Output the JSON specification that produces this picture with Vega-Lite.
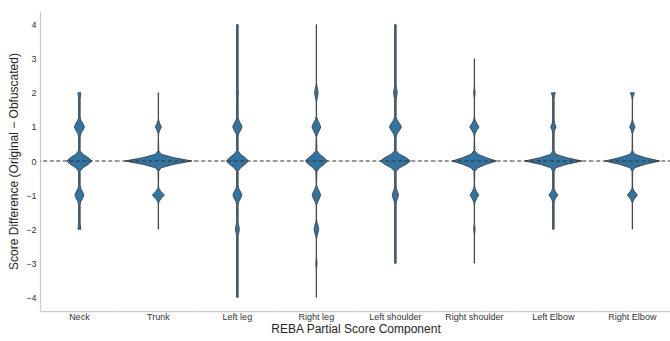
{
  "$schema": "https://vega.github.io/schema/vega-lite/v6.json",
  "padding": {"left": 7, "top": 11, "right": 0, "bottom": 0},
  "background": "white",
  "bounds": "flush",
  "config": {
    "font": "Liberation Sans",
    "view": {"stroke": null},
    "facet": {"spacing": 0}
  },
  "data": {
    "values": [
      {"c": "Neck", "y": -2, "d": 3}, {"c": "Neck", "y": -1.9, "d": 2.1}, {"c": "Neck", "y": -1.8, "d": 1.5}, {"c": "Neck", "y": -1.3, "d": 1.5}, {"c": "Neck", "y": -1.2, "d": 2.5}, {"c": "Neck", "y": -1.1, "d": 6.3}, {"c": "Neck", "y": -1, "d": 9}, {"c": "Neck", "y": -0.9, "d": 6.3}, {"c": "Neck", "y": -0.8, "d": 2.5}, {"c": "Neck", "y": -0.7, "d": 1.5}, {"c": "Neck", "y": -0.3, "d": 1.5}, {"c": "Neck", "y": -0.2, "d": 7}, {"c": "Neck", "y": -0.1, "d": 17.5}, {"c": "Neck", "y": 0, "d": 25}, {"c": "Neck", "y": 0.1, "d": 17.5}, {"c": "Neck", "y": 0.2, "d": 7}, {"c": "Neck", "y": 0.3, "d": 1.5}, {"c": "Neck", "y": 0.7, "d": 1.5}, {"c": "Neck", "y": 0.8, "d": 2.8}, {"c": "Neck", "y": 0.9, "d": 7}, {"c": "Neck", "y": 1, "d": 10}, {"c": "Neck", "y": 1.1, "d": 7}, {"c": "Neck", "y": 1.2, "d": 2.8}, {"c": "Neck", "y": 1.3, "d": 1.5}, {"c": "Neck", "y": 1.8, "d": 1.5}, {"c": "Neck", "y": 1.9, "d": 2.1}, {"c": "Neck", "y": 2, "d": 3},

      {"c": "Trunk", "y": -2, "d": 0.5}, {"c": "Trunk", "y": -1.8, "d": 0.3}, {"c": "Trunk", "y": -1.3, "d": 0.3}, {"c": "Trunk", "y": -1.2, "d": 1}, {"c": "Trunk", "y": -1.1, "d": 5.4}, {"c": "Trunk", "y": -1, "d": 12}, {"c": "Trunk", "y": -0.9, "d": 5.4}, {"c": "Trunk", "y": -0.8, "d": 1}, {"c": "Trunk", "y": -0.7, "d": 0.3}, {"c": "Trunk", "y": -0.3, "d": 0.7}, {"c": "Trunk", "y": -0.2, "d": 5.4}, {"c": "Trunk", "y": -0.1, "d": 30}, {"c": "Trunk", "y": 0, "d": 67}, {"c": "Trunk", "y": 0.1, "d": 30}, {"c": "Trunk", "y": 0.2, "d": 5.4}, {"c": "Trunk", "y": 0.3, "d": 0.7}, {"c": "Trunk", "y": 0.7, "d": 0.3}, {"c": "Trunk", "y": 0.8, "d": 0.5}, {"c": "Trunk", "y": 0.9, "d": 2.7}, {"c": "Trunk", "y": 1, "d": 6}, {"c": "Trunk", "y": 1.1, "d": 2.7}, {"c": "Trunk", "y": 1.2, "d": 0.5}, {"c": "Trunk", "y": 1.3, "d": 0.3}, {"c": "Trunk", "y": 1.8, "d": 0.3}, {"c": "Trunk", "y": 2, "d": 0.5},

      {"c": "Left leg", "y": -4, "d": 1.5}, {"c": "Left leg", "y": -2.2, "d": 1.5}, {"c": "Left leg", "y": -2.1, "d": 2.8}, {"c": "Left leg", "y": -2, "d": 4}, {"c": "Left leg", "y": -1.9, "d": 2.8}, {"c": "Left leg", "y": -1.8, "d": 1.5}, {"c": "Left leg", "y": -1.3, "d": 1.5}, {"c": "Left leg", "y": -1.2, "d": 2.5}, {"c": "Left leg", "y": -1.1, "d": 6.3}, {"c": "Left leg", "y": -1, "d": 9}, {"c": "Left leg", "y": -0.9, "d": 6.3}, {"c": "Left leg", "y": -0.8, "d": 2.5}, {"c": "Left leg", "y": -0.7, "d": 1.5}, {"c": "Left leg", "y": -0.3, "d": 1.5}, {"c": "Left leg", "y": -0.2, "d": 6.2}, {"c": "Left leg", "y": -0.1, "d": 15.4}, {"c": "Left leg", "y": 0, "d": 22}, {"c": "Left leg", "y": 0.1, "d": 15.4}, {"c": "Left leg", "y": 0.2, "d": 6.2}, {"c": "Left leg", "y": 0.3, "d": 1.5}, {"c": "Left leg", "y": 0.7, "d": 1.5}, {"c": "Left leg", "y": 0.8, "d": 2.6}, {"c": "Left leg", "y": 0.9, "d": 6.5}, {"c": "Left leg", "y": 1, "d": 9.3}, {"c": "Left leg", "y": 1.1, "d": 6.5}, {"c": "Left leg", "y": 1.2, "d": 2.6}, {"c": "Left leg", "y": 1.3, "d": 1.5}, {"c": "Left leg", "y": 1.9, "d": 1.5}, {"c": "Left leg", "y": 2, "d": 2.2}, {"c": "Left leg", "y": 2.1, "d": 1.5}, {"c": "Left leg", "y": 4, "d": 1.5},

      {"c": "Right leg", "y": -4, "d": 0.3}, {"c": "Right leg", "y": -3.2, "d": 0.3}, {"c": "Right leg", "y": -3, "d": 1.2}, {"c": "Right leg", "y": -2.8, "d": 0.3}, {"c": "Right leg", "y": -2.3, "d": 0.3}, {"c": "Right leg", "y": -2.2, "d": 1.3}, {"c": "Right leg", "y": -2.1, "d": 3.3}, {"c": "Right leg", "y": -2, "d": 4.7}, {"c": "Right leg", "y": -1.9, "d": 3.3}, {"c": "Right leg", "y": -1.8, "d": 1.3}, {"c": "Right leg", "y": -1.7, "d": 0.3}, {"c": "Right leg", "y": -1.3, "d": 0.4}, {"c": "Right leg", "y": -1.2, "d": 2.4}, {"c": "Right leg", "y": -1.1, "d": 6}, {"c": "Right leg", "y": -1, "d": 8.5}, {"c": "Right leg", "y": -0.9, "d": 6}, {"c": "Right leg", "y": -0.8, "d": 2.4}, {"c": "Right leg", "y": -0.7, "d": 0.4}, {"c": "Right leg", "y": -0.3, "d": 1.1}, {"c": "Right leg", "y": -0.2, "d": 6.2}, {"c": "Right leg", "y": -0.1, "d": 15.4}, {"c": "Right leg", "y": 0, "d": 22}, {"c": "Right leg", "y": 0.1, "d": 15.4}, {"c": "Right leg", "y": 0.2, "d": 6.2}, {"c": "Right leg", "y": 0.3, "d": 1.1}, {"c": "Right leg", "y": 0.7, "d": 0.4}, {"c": "Right leg", "y": 0.8, "d": 2.4}, {"c": "Right leg", "y": 0.9, "d": 6.1}, {"c": "Right leg", "y": 1, "d": 8.7}, {"c": "Right leg", "y": 1.1, "d": 6.1}, {"c": "Right leg", "y": 1.2, "d": 2.4}, {"c": "Right leg", "y": 1.3, "d": 0.4}, {"c": "Right leg", "y": 1.7, "d": 0.3}, {"c": "Right leg", "y": 1.8, "d": 1}, {"c": "Right leg", "y": 1.9, "d": 2.5}, {"c": "Right leg", "y": 2, "d": 3.5}, {"c": "Right leg", "y": 2.1, "d": 2.5}, {"c": "Right leg", "y": 2.2, "d": 1}, {"c": "Right leg", "y": 2.3, "d": 0.3}, {"c": "Right leg", "y": 4, "d": 0.3},

      {"c": "Left shoulder", "y": -3, "d": 1.5}, {"c": "Left shoulder", "y": -1.3, "d": 1.5}, {"c": "Left shoulder", "y": -1.2, "d": 1.8}, {"c": "Left shoulder", "y": -1.1, "d": 4.4}, {"c": "Left shoulder", "y": -1, "d": 6.3}, {"c": "Left shoulder", "y": -0.9, "d": 4.4}, {"c": "Left shoulder", "y": -0.8, "d": 1.8}, {"c": "Left shoulder", "y": -0.7, "d": 1.5}, {"c": "Left shoulder", "y": -0.3, "d": 1.5}, {"c": "Left shoulder", "y": -0.2, "d": 8.4}, {"c": "Left shoulder", "y": -0.1, "d": 21}, {"c": "Left shoulder", "y": 0, "d": 30}, {"c": "Left shoulder", "y": 0.1, "d": 21}, {"c": "Left shoulder", "y": 0.2, "d": 8.4}, {"c": "Left shoulder", "y": 0.3, "d": 1.5}, {"c": "Left shoulder", "y": 0.7, "d": 1.5}, {"c": "Left shoulder", "y": 0.8, "d": 3.4}, {"c": "Left shoulder", "y": 0.9, "d": 8.4}, {"c": "Left shoulder", "y": 1, "d": 12}, {"c": "Left shoulder", "y": 1.1, "d": 8.4}, {"c": "Left shoulder", "y": 1.2, "d": 3.4}, {"c": "Left shoulder", "y": 1.3, "d": 1.5}, {"c": "Left shoulder", "y": 1.8, "d": 1.5}, {"c": "Left shoulder", "y": 1.9, "d": 2.6}, {"c": "Left shoulder", "y": 2, "d": 3.7}, {"c": "Left shoulder", "y": 2.1, "d": 2.6}, {"c": "Left shoulder", "y": 2.2, "d": 1.5}, {"c": "Left shoulder", "y": 4, "d": 1.5},

      {"c": "Right shoulder", "y": -3, "d": 0.3}, {"c": "Right shoulder", "y": -2.2, "d": 0.3}, {"c": "Right shoulder", "y": -2.1, "d": 0.8}, {"c": "Right shoulder", "y": -2, "d": 1.5}, {"c": "Right shoulder", "y": -1.9, "d": 0.8}, {"c": "Right shoulder", "y": -1.8, "d": 0.3}, {"c": "Right shoulder", "y": -1.3, "d": 0.3}, {"c": "Right shoulder", "y": -1.2, "d": 1.3}, {"c": "Right shoulder", "y": -1.1, "d": 4.5}, {"c": "Right shoulder", "y": -1, "d": 8.7}, {"c": "Right shoulder", "y": -0.9, "d": 4.5}, {"c": "Right shoulder", "y": -0.8, "d": 1.3}, {"c": "Right shoulder", "y": -0.7, "d": 0.3}, {"c": "Right shoulder", "y": -0.3, "d": 0.9}, {"c": "Right shoulder", "y": -0.2, "d": 6.6}, {"c": "Right shoulder", "y": -0.1, "d": 22.9}, {"c": "Right shoulder", "y": 0, "d": 44}, {"c": "Right shoulder", "y": 0.1, "d": 22.9}, {"c": "Right shoulder", "y": 0.2, "d": 6.6}, {"c": "Right shoulder", "y": 0.3, "d": 0.9}, {"c": "Right shoulder", "y": 0.7, "d": 0.3}, {"c": "Right shoulder", "y": 0.8, "d": 1.4}, {"c": "Right shoulder", "y": 0.9, "d": 4.8}, {"c": "Right shoulder", "y": 1, "d": 9.3}, {"c": "Right shoulder", "y": 1.1, "d": 4.8}, {"c": "Right shoulder", "y": 1.2, "d": 1.4}, {"c": "Right shoulder", "y": 1.3, "d": 0.3}, {"c": "Right shoulder", "y": 1.8, "d": 0.3}, {"c": "Right shoulder", "y": 1.9, "d": 0.8}, {"c": "Right shoulder", "y": 2, "d": 1.5}, {"c": "Right shoulder", "y": 2.1, "d": 0.8}, {"c": "Right shoulder", "y": 2.2, "d": 0.3}, {"c": "Right shoulder", "y": 3, "d": 0.3},

      {"c": "Left Elbow", "y": -2, "d": 1.5}, {"c": "Left Elbow", "y": -1.2, "d": 1.5}, {"c": "Left Elbow", "y": -1.1, "d": 4}, {"c": "Left Elbow", "y": -1, "d": 9}, {"c": "Left Elbow", "y": -0.9, "d": 4}, {"c": "Left Elbow", "y": -0.8, "d": 1.5}, {"c": "Left Elbow", "y": -0.3, "d": 1.5}, {"c": "Left Elbow", "y": -0.2, "d": 4.6}, {"c": "Left Elbow", "y": -0.1, "d": 25.6}, {"c": "Left Elbow", "y": 0, "d": 57}, {"c": "Left Elbow", "y": 0.1, "d": 25.6}, {"c": "Left Elbow", "y": 0.2, "d": 4.6}, {"c": "Left Elbow", "y": 0.3, "d": 1.5}, {"c": "Left Elbow", "y": 0.8, "d": 1.5}, {"c": "Left Elbow", "y": 0.9, "d": 2.4}, {"c": "Left Elbow", "y": 1, "d": 5.3}, {"c": "Left Elbow", "y": 1.1, "d": 2.4}, {"c": "Left Elbow", "y": 1.2, "d": 1.5}, {"c": "Left Elbow", "y": 1.85, "d": 1.5}, {"c": "Left Elbow", "y": 1.93, "d": 2.4}, {"c": "Left Elbow", "y": 2, "d": 4},

      {"c": "Right Elbow", "y": -2, "d": 0.3}, {"c": "Right Elbow", "y": -1.3, "d": 0.3}, {"c": "Right Elbow", "y": -1.2, "d": 0.8}, {"c": "Right Elbow", "y": -1.1, "d": 4.5}, {"c": "Right Elbow", "y": -1, "d": 10}, {"c": "Right Elbow", "y": -0.9, "d": 4.5}, {"c": "Right Elbow", "y": -0.8, "d": 0.8}, {"c": "Right Elbow", "y": -0.7, "d": 0.3}, {"c": "Right Elbow", "y": -0.3, "d": 0.6}, {"c": "Right Elbow", "y": -0.2, "d": 4.4}, {"c": "Right Elbow", "y": -0.1, "d": 24.8}, {"c": "Right Elbow", "y": 0, "d": 55}, {"c": "Right Elbow", "y": 0.1, "d": 24.8}, {"c": "Right Elbow", "y": 0.2, "d": 4.4}, {"c": "Right Elbow", "y": 0.3, "d": 0.6}, {"c": "Right Elbow", "y": 0.7, "d": 0.3}, {"c": "Right Elbow", "y": 0.8, "d": 0.4}, {"c": "Right Elbow", "y": 0.9, "d": 2.4}, {"c": "Right Elbow", "y": 1, "d": 5.3}, {"c": "Right Elbow", "y": 1.1, "d": 2.4}, {"c": "Right Elbow", "y": 1.2, "d": 0.4}, {"c": "Right Elbow", "y": 1.3, "d": 0.3}, {"c": "Right Elbow", "y": 1.8, "d": 0.3}, {"c": "Right Elbow", "y": 1.9, "d": 1.5}, {"c": "Right Elbow", "y": 2, "d": 4}
    ]
  },
  "transform": [
    {"stack": "d", "groupby": ["c", "y"], "offset": "center", "as": ["x0", "x1"]}
  ],
  "facet": {
    "column": {
      "field": "c",
      "type": "nominal",
      "sort": ["Neck", "Trunk", "Left leg", "Right leg", "Left shoulder", "Right shoulder", "Left Elbow", "Right Elbow"],
      "title": "REBA Partial Score Component",
      "header": {
        "labelOrient": "bottom",
        "titleOrient": "bottom",
        "labelFontSize": 9,
        "labelColor": "#333333",
        "labelPadding": 2,
        "titleFontSize": 12,
        "titleFontWeight": "normal",
        "titleColor": "#262626",
        "titlePadding": -8
      }
    }
  },
  "spacing": {"column": 0, "row": 0},
  "spec": {
    "width": 78.75,
    "height": 300,
    "layer": [
      {
        "mark": {"type": "area", "orient": "horizontal", "fill": "#3274a1", "stroke": "#3f3f3f", "strokeWidth": 0.9, "interpolate": "linear"},
        "encoding": {
          "y": {
            "field": "y",
            "type": "quantitative",
            "scale": {"domain": [-4.4, 4.4], "nice": false, "zero": false},
            "title": "Score Difference (Original − Obfuscated)",
            "axis": {
              "values": [-4, -3, -2, -1, 0, 1, 2, 3, 4],
              "tickCount": 9,
              "labelOverlap": false,
              "ticks": false,
              "grid": false,
              "domainColor": "#cccccc",
              "domainWidth": 1.25,
              "labelFontSize": 9,
              "labelColor": "#333333",
              "labelPadding": 4,
              "titleFontSize": 12,
              "titleFontWeight": "normal",
              "titleColor": "#262626",
              "titlePadding": 5
            }
          },
          "x": {
            "field": "x0",
            "type": "quantitative",
            "scale": {"domain": [-5.875, 72.875], "nice": false, "zero": false},
            "axis": {"labels": false, "ticks": false, "grid": false, "title": null, "domainColor": "#cccccc", "domainWidth": 1.25}
          },
          "x2": {"field": "x1"}
        }
      },
      {
        "transform": [{"aggregate": [{"op": "count", "as": "n"}], "groupby": ["c"]}],
        "mark": {"type": "rule", "color": "#333333", "strokeDash": [4, 2.5], "strokeWidth": 1.2},
        "encoding": {"y": {"datum": 0}}
      }
    ]
  }
}
